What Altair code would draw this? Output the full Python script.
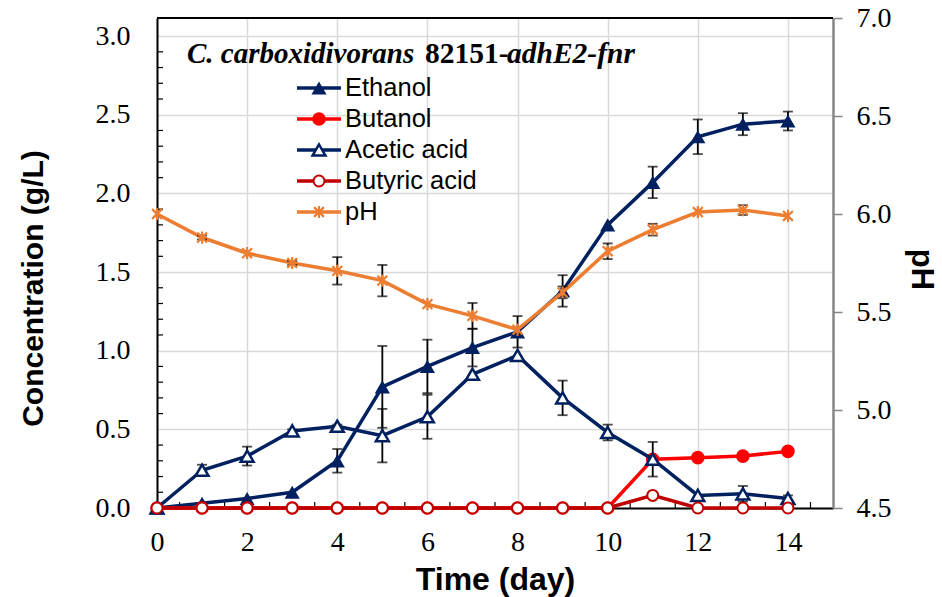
import altair as alt
import pandas as pd

# ---------------- data ----------------
days = [0, 1, 2, 3, 4, 5, 6, 7, 8, 9, 10, 11, 12, 13, 14]
ethanol = [0.00, 0.03, 0.06, 0.10, 0.30, 0.77, 0.90, 1.02, 1.12, 1.38, 1.80, 2.07, 2.36, 2.44, 2.46]
ethanol_err = [0, 0, 0, 0, 0.075, 0.26, 0.17, 0.12, 0.10, 0.10, 0, 0.10, 0.11, 0.07, 0.06]
butanol = [0, 0, 0, 0, 0, 0, 0, 0, 0, 0, 0, 0.31, 0.32, 0.33, 0.36]
butanol_err = [0, 0, 0, 0, 0, 0, 0, 0, 0, 0, 0, 0, 0, 0, 0]
acetic = [0.00, 0.24, 0.33, 0.49, 0.52, 0.46, 0.58, 0.85, 0.97, 0.70, 0.48, 0.31, 0.08, 0.09, 0.06]
acetic_err = [0, 0.035, 0.06, 0.01, 0.01, 0.17, 0.14, 0, 0, 0.11, 0.05, 0.11, 0, 0.05, 0.02]
butyric = [0, 0, 0, 0, 0, 0, 0, 0, 0, 0, 0, 0.08, 0, 0, 0]
butyric_err = [0, 0, 0, 0, 0, 0, 0, 0, 0, 0, 0, 0, 0, 0, 0]
ph = [6.00, 5.88, 5.80, 5.75, 5.71, 5.66, 5.54, 5.48, 5.41, 5.60, 5.81, 5.92, 6.01, 6.02, 5.99]
ph_err = [0, 0.01, 0, 0.01, 0.07, 0.08, 0, 0.066, 0, 0.03, 0.04, 0.03, 0, 0.025, 0]

x_ticks = [0, 2, 4, 6, 8, 10, 12, 14]
x_minor = [0.5, 1.5, 2.5, 3.5, 4.5, 5.5, 6.5, 7.5, 8.5, 9.5, 10.5, 11.5, 12.5, 13.5, 14.5]
c_ticks = [0.0, 0.5, 1.0, 1.5, 2.0, 2.5, 3.0]
c_minor = [0.1, 0.2, 0.3, 0.4, 0.6, 0.7, 0.8, 0.9, 1.1, 1.2, 1.3, 1.4, 1.6, 1.7, 1.8, 1.9,
           2.1, 2.2, 2.3, 2.4, 2.6, 2.7, 2.8, 2.9]
p_ticks = [4.5, 5.0, 5.5, 6.0, 6.5, 7.0]
legend_labels = ["Ethanol", "Butanol", "Acetic acid", "Butyric acid", "pH"]
title_parts = ["C. carboxidivorans", "82151-", "adhE2-fnr"]

# ---------------- styling ----------------
W, H = 676, 490
NAVY = "#002060"
RED = "#FF0000"
DARKRED = "#C00000"
ORANGE = "#ED7D31"
GRID = "#D9D9D9"
GRAYAX = "#868686"
SERIF = "Liberation Serif"
SANS = "Liberation Sans"
STAR = "M0,-1L0,1M-0.8,-0.8L0.8,0.8M-0.8,0.8L0.8,-0.8"

x_scale = alt.Scale(domain=[0, 15], nice=False, zero=False)
x_axis = alt.Axis(values=x_ticks, title="Time (day)", grid=True, gridColor=GRID, gridWidth=1.5,
                  ticks=False, tickSize=0, domainColor="black", domainWidth=2,
                  labelFont=SERIF, labelFontSize=28, labelColor="black", labelPadding=20,
                  labelFlush=False, labelOverlap=False,
                  titleFont=SANS, titleFontSize=32, titleFontWeight="bold", titleColor="black",
                  titleBaseline="alphabetic", titleY=81)

c_scale = alt.Scale(domain=[0, 3.115], nice=False, zero=False)
c_axis = alt.Axis(values=c_ticks, format=".1f", title="Concentration (g/L)", grid=True,
                  gridColor=GRID, gridWidth=1.5, ticks=False, tickSize=0,
                  domainColor="black", domainWidth=2,
                  labelFont=SERIF, labelFontSize=28, labelColor="black", labelPadding=27,
                  labelFlush=False, labelOverlap=False,
                  titleFont=SANS, titleFontSize=30, titleFontWeight="bold", titleColor="black",
                  titleAngle=-90, titleBaseline="alphabetic", titleAlign="center",
                  titleX=-115, titleY=270)

p_scale = alt.Scale(domain=[4.5, 7.0], nice=False, zero=False)
p_axis = alt.Axis(orient="right", values=p_ticks, format=".1f", title="pH", grid=False,
                  ticks=True, tickSize=9, tickWidth=1.5, tickColor=GRAYAX,
                  domainColor=GRAYAX, domainWidth=2.5,
                  labelFont=SERIF, labelFontSize=28, labelColor="black", labelPadding=14,
                  labelFlush=False, labelOverlap=False,
                  titleFont=SANS, titleFontSize=31, titleFontWeight="bold", titleColor="black",
                  titleAngle=90, titleBaseline="alphabetic", titleAlign="center",
                  titleX=78, titleY=251)


def xenc(f):
    return alt.X(f + ":Q", scale=x_scale, axis=x_axis)


def cenc(f):
    return alt.Y(f + ":Q", scale=c_scale, axis=c_axis)


def penc(f):
    return alt.Y(f + ":Q", scale=p_scale, axis=p_axis)


styles = [
    dict(color=NAVY, pt=dict(shape="triangle-up", size=230, filled=True, color=NAVY, opacity=1)),
    dict(color=RED, pt=dict(shape="circle", size=185, filled=True, color=RED, opacity=1)),
    dict(color=NAVY, pt=dict(shape="triangle-up", size=165, filled=True, fill="white",
                             stroke=NAVY, strokeWidth=2.5, opacity=1)),
    dict(color=DARKRED, pt=dict(shape="circle", size=120, filled=True, fill="white",
                                stroke=DARKRED, strokeWidth=2, opacity=1)),
    dict(color=ORANGE, pt=dict(shape=STAR, size=150, filled=False, color=ORANGE,
                               strokeWidth=2.2, opacity=1)),
]


def series_layers(vals, errs, yfn, st):
    df = pd.DataFrame({"day": days, "v": vals, "e": errs})
    df["lo"] = df["v"] - df["e"]
    df["hi"] = df["v"] + df["e"]
    out = [alt.Chart(df).mark_line(color=st["color"], strokeWidth=3.5).encode(
        x=xenc("day"), y=yfn("v"))]
    eb = df[df["e"] > 0]
    if len(eb):
        out.append(alt.Chart(eb).mark_rule(color="black", strokeWidth=1.8).encode(
            x=xenc("day"), y=yfn("lo"), y2=alt.Y2("hi")))
        for f in ("lo", "hi"):
            out.append(alt.Chart(eb).mark_tick(orient="horizontal", size=10, thickness=1.8,
                                               color="black").encode(x=xenc("day"), y=yfn(f)))
    out.append(alt.Chart(df).mark_point(**st["pt"]).encode(x=xenc("day"), y=yfn("v")))
    return out


conc_layers = []
# minor ticks (inside) on left and bottom axes
conc_layers.append(alt.Chart(pd.DataFrame({"t": c_minor})).mark_rule(
    color="black", strokeWidth=1.2).encode(y=cenc("t"), x=alt.value(0), x2=alt.value(6)))
conc_layers.append(alt.Chart(pd.DataFrame({"t": x_minor})).mark_rule(
    color="black", strokeWidth=1.2).encode(x=xenc("t"), y=alt.value(H - 6), y2=alt.value(H)))
for vals, errs, st in [(ethanol, ethanol_err, styles[0]), (butanol, butanol_err, styles[1]),
                       (acetic, acetic_err, styles[2]), (butyric, butyric_err, styles[3])]:
    conc_layers += series_layers(vals, errs, cenc, st)
conc = alt.layer(*conc_layers)

ph_chart = alt.layer(*series_layers(ph, ph_err, penc, styles[4]))

one = pd.DataFrame({"a": [0]})
ann = []
# top frame border
ann.append(alt.Chart(one).mark_rule(color="black", strokeWidth=2).encode(
    x=alt.value(0), x2=alt.value(W), y=alt.value(0)))
# inner title (mixed styles)
for txt, xp, style, fs in [(title_parts[0], 30, "italic", 29), (title_parts[1], 268, "normal", 29.5),
                           (title_parts[2], 350, "italic", 29.5)]:
    ann.append(alt.Chart(one).mark_text(text=txt, font=SERIF, fontSize=fs, fontWeight="bold",
                                        fontStyle=style, align="left", baseline="alphabetic",
                                        color="black").encode(x=alt.value(xp), y=alt.value(45)))
# legend
for i, (lab, st) in enumerate(zip(legend_labels, styles)):
    yy = 70 + 31 * i
    ann.append(alt.Chart(one).mark_rule(color=st["color"], strokeWidth=3.5).encode(
        x=alt.value(140), x2=alt.value(184), y=alt.value(yy)))
    ann.append(alt.Chart(one).mark_point(**st["pt"]).encode(x=alt.value(162), y=alt.value(yy)))
    ann.append(alt.Chart(one).mark_text(text=lab, font=SANS, fontSize=25.5, align="left",
                                        baseline="middle", color="black").encode(
        x=alt.value(188), y=alt.value(yy)))

chart = alt.layer(conc, ph_chart, *ann).resolve_scale(y="independent").properties(
    width=W, height=H,
    padding={"left": 157, "top": 18, "right": 109, "bottom": 89},
    autosize=alt.AutoSizeParams(type="none"),
    background="white",
).configure_view(stroke="transparent")

chart.save("out.html", embed_options={"renderer": "svg", "actions": False})
